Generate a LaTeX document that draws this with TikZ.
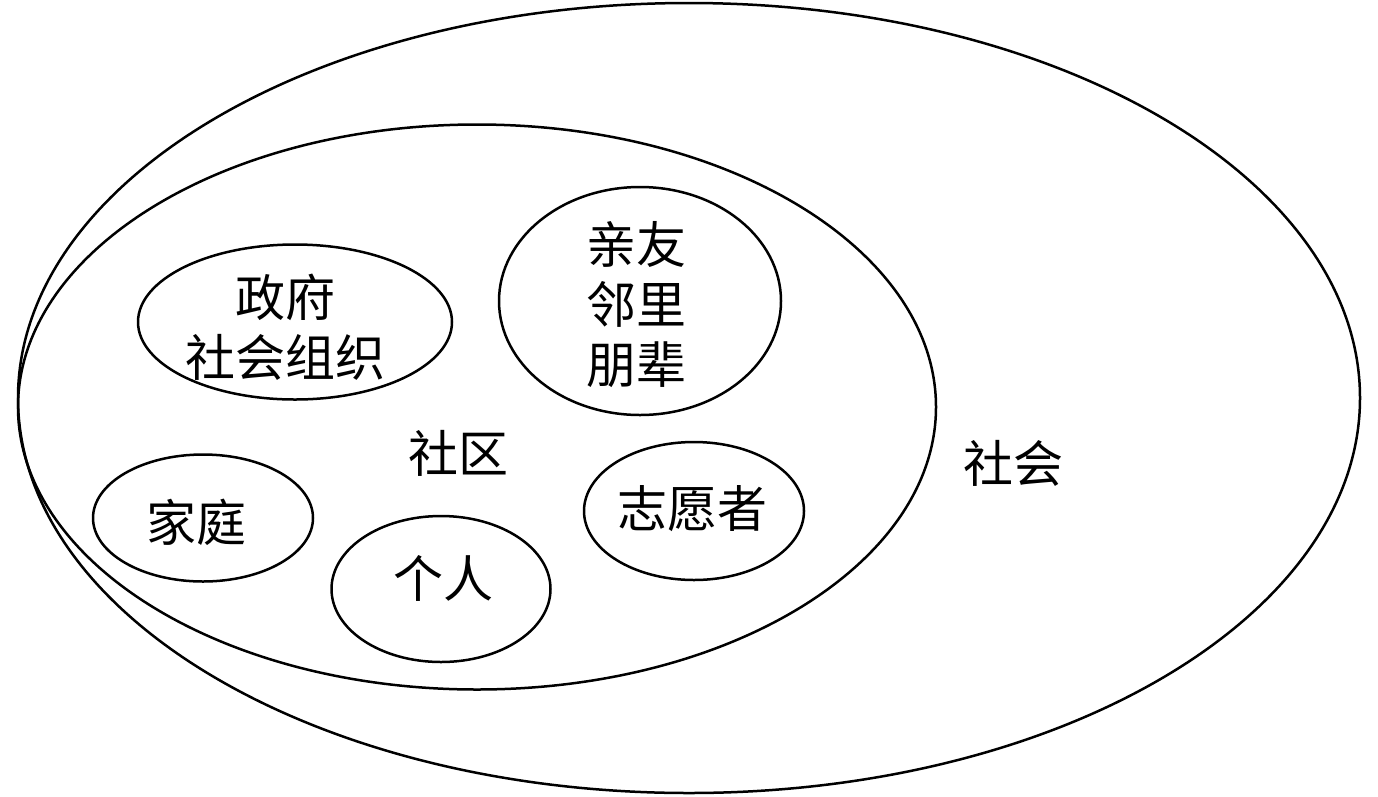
\documentclass[tikz,border=0pt]{standalone}
\usepackage{fontspec}
\newfontfamily\cjk{Noto Sans CJK SC}
\usetikzlibrary{shapes.geometric}
\begin{document}
\begin{tikzpicture}[x=1pt,y=-1pt,
  ring/.style={draw=black,line width=2.5pt,ellipse,inner sep=0pt},
  lbl/.style={font=\cjk\fontsize{50}{60}\selectfont,align=center,inner sep=0pt}]
\useasboundingbox (0,0) rectangle (1378,796);
\node[ring,minimum width=1342pt,minimum height=790pt] (society) at (689,398) {};
\node[ring,minimum width=918pt,minimum height=565pt] (community) at (477,407) {};
\node[ring,minimum width=314pt,minimum height=155pt] (gov) at (295,322) {};
\node[ring,minimum width=282pt,minimum height=228pt] (friends) at (640,301) {};
\node[ring,minimum width=220pt,minimum height=127pt] (family) at (203,518) {};
\node[ring,minimum width=219pt,minimum height=146pt] (person) at (441,589) {};
\node[ring,minimum width=220pt,minimum height=138pt] (vol) at (694,511) {};
\node[lbl] (tgov) at (285,327) {政府\\社会组织};
\node[lbl] (tfriends) at (636,305) {亲友\\邻里\\朋辈};
\node[lbl] (tfamily) at (196,522) {家庭};
\node[lbl] (tperson) at (443,578) {个人};
\node[lbl] (tvol) at (692,509) {志愿者};
\node[lbl] (tcomm) at (458,453) {社区};
\node[lbl] (tsoc) at (1013,463) {社会};
\end{tikzpicture}
\end{document}
